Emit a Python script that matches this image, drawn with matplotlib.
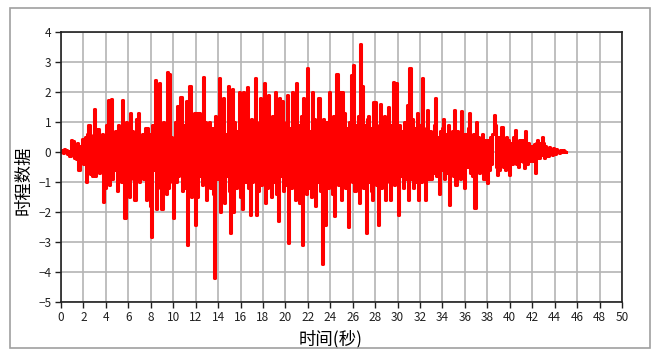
import numpy as np
import matplotlib
matplotlib.use("Agg")
import matplotlib.pyplot as plt
from matplotlib.patches import Rectangle

plt.rcParams['font.family'] = ['Noto Sans CJK SC', 'DejaVu Sans']

dt = 0.1  # 采样间隔(秒)

# 时程数据, 每行一秒 (10 个点)
acc = [
    0.00, 0.05, -0.03, 0.08, 0.02, 0.07, -0.08, 0.04, -0.15, 0.38,
    -0.1, 0.35, -0.2, 0.15, -0.25, 0.28, -0.62, 0.2, -0.3, 0.42,
    -0.4, 0.3, 0.5, -1.0, 0.6, 0.89, -0.75, 0.35, -0.8, 0.55,
    1.42, -0.8, 0.3, 0.75, -0.7, 0.5, -0.5, 0.6, -1.68, 0.4,
    -1.2, 0.9, 1.72, -1.1, 0.6, 1.75, -0.9, 0.5, -0.6, 0.7,
    -1.3, 0.9, -0.8, 0.6, -1.0, 1.72, -0.5, -2.2, 1.0, -0.7,
    0.8, -1.5, 1.3, -0.6, 0.7, -0.9, -1.6, 1.1, -0.8, 1.3,
    -1.0, 0.5, -0.7, 0.6, -0.9, 0.8, -1.6, 0.8, -1.2, 0.6,
    -1.8, -2.85, 0.9, -0.6, 2.4, -1.9, 0.5, -0.8, 2.3, -1.2,
    -1.9, 1.0, -0.9, 0.7, -1.4, 2.66, -1.2, 2.6, 0.5, -1.0,
    -2.2, 0.4, 1.0, -1.0, 1.53, -0.8, 0.6, 1.82, -1.3, 0.9,
    -1.2, 0.8, 1.7, -3.1, 0.9, 2.2, -1.5, 1.1, -0.9, 1.3,
    -2.45, 1.3, -1.5, 1.3, -0.8, 0.7, -1.1, 2.5, -0.6, 1.0,
    -1.6, 0.6, 1.0, -1.2, 0.7, 0.8, -1.4, -4.2, 1.2, -0.9,
    1.0, 2.45, -2.0, 0.9, -1.1, 1.8, -1.7, 0.6, -0.8, 2.2,
    -1.3, -2.7, 0.8, 2.1, -2.0, 1.0, -1.2, 0.7, -0.9, 2.0,
    -1.5, 1.2, -1.9, 2.0, -1.0, 0.8, 2.15, -1.2, 0.6, -2.1,
    1.1, -1.0, 0.7, 2.45, -2.1, 0.9, -1.3, 1.0, 1.8, -1.1,
    0.6, 2.3, -1.7, 1.0, -1.2, 1.9, -0.9, 0.8, -1.5, 1.2,
    -1.0, 2.0, -1.4, 0.9, -2.3, 1.8, -0.8, 1.7, -1.3, 0.7,
    -1.1, 1.0, 1.9, -3.05, 0.8, -1.2, 2.0, -0.9, 1.1, -1.6,
    2.3, -1.0, 0.9, -1.7, 1.2, -3.1, 1.8, -0.8, 1.0, -1.4,
    2.8, -1.2, 0.7, -1.5, 2.0, -0.9, 1.1, -1.8, 0.8, -1.0,
    1.8, -1.3, 0.9, -3.75, 1.1, -0.9, -2.45, 1.0, -1.2, 2.0,
    -1.0, 0.8, -1.4, 1.2, -2.15, 0.7, 2.6, -1.1, 0.9, 2.0,
    -1.6, 2.0, -0.9, 1.3, -1.2, 0.8, -2.5, 1.0, -0.7, 2.55,
    -1.0, 2.9, -1.3, 0.9, -1.1, 1.2, -1.7, 3.6, -0.8, 2.2,
    -1.2, 0.9, -2.7, 1.1, 1.2, -1.0, 0.8, -1.3, -1.6, 1.67,
    1.67, -1.1, 0.7, -2.45, 0.9, 1.6, -1.2, 0.8, 1.2, -1.6,
    -0.9, 0.7, 1.5, -1.0, -1.6, 0.9, 2.33, -1.1, 0.8, 2.3,
    -1.0, -2.1, 0.9, -0.8, 0.7, -1.2, 1.0, -0.9, 0.6, 1.55,
    -1.6, 2.8, -0.9, 1.1, -1.2, 0.8, -1.0, 0.7, 1.3, -1.6,
    0.9, -1.0, 2.45, -0.8, 0.6, -1.6, 0.8, 1.4, -0.9, 0.7,
    -0.9, 0.6, -0.7, 0.9, 1.8, -0.8, 0.5, -1.4, 0.7, -0.6,
    0.8, 1.1, -0.9, 0.6, -0.7, 0.9, -1.78, 0.5, -0.6, 0.7,
    -0.8, 1.4, -1.1, 0.7, -0.6, 0.5, -0.9, 1.35, -0.7, 0.6,
    -1.2, 0.6, -0.5, 0.8, 1.3, -0.7, 0.5, -0.8, 0.6, -1.87,
    1.0, -0.6, 0.5, -0.7, 0.4, -0.5, 0.6, -0.9, 0.4, -0.5,
    -1.05, 0.4, -0.6, 0.5, -0.4, 0.6, 1.22, 0.9, -0.5, -0.78,
    0.5, -0.6, 0.4, 0.83, -0.5, 0.3, -0.6, 0.5, -0.4, 0.4,
    -0.77, 0.3, -0.4, 0.5, -0.3, 0.72, -0.4, 0.3, -0.5, 0.4,
    -0.3, 0.4, -0.35, -0.55, 0.7, 0.3, -0.4, 0.3, -0.3, 0.2,
    0.2, -0.3, 0.25, -0.72, 0.3, 0.4, -0.2, 0.3, -0.1, 0.5,
    0.3, -0.2, 0.2, 0.1, -0.15, 0.15, -0.05, 0.1, -0.1, 0.12,
    0.05, -0.08, 0.1, 0.02, -0.04, 0.07, 0.0, -0.02, 0.05, 0.03,
    0.0,
]
t = np.arange(len(acc)) * dt

x_ticks = list(range(0, 51, 2))
y_ticks = list(range(-5, 5))

fig = plt.figure(figsize=(6.59, 3.54), dpi=100)
fig.patches.append(Rectangle((10 / 659, 1 - 348 / 354), 640 / 659, 340 / 354,
                             transform=fig.transFigure, fill=False,
                             edgecolor='#a0a0a0', linewidth=1.2))
ax = fig.add_axes([61 / 659, 1 - 301.7 / 354, 561 / 659, 270 / 354])

ax.plot(t, acc, color='#ff0000', linewidth=2.2, drawstyle='steps-mid')

ax.set_xlim(0, 50)
ax.set_ylim(-5, 4)
ax.set_xticks(x_ticks)
ax.set_yticks(y_ticks)
ax.grid(True, color='#b4b4b4', linewidth=1.2)
ax.set_axisbelow(True)
for s in ax.spines.values():
    s.set_color('#202020')
    s.set_linewidth(1.2)
ax.tick_params(direction='out', length=4, width=1, color='#202020',
               labelsize=8.5, labelcolor='#202020', pad=3)

ax.set_xlabel('时间(秒)', fontsize=12.5)
ax.set_ylabel('时程数据', fontsize=12.5)
ax.xaxis.set_label_coords(0.481, -0.105)
ax.yaxis.set_label_coords(-0.05, 0.45)

fig.savefig('out.png', dpi=100)
